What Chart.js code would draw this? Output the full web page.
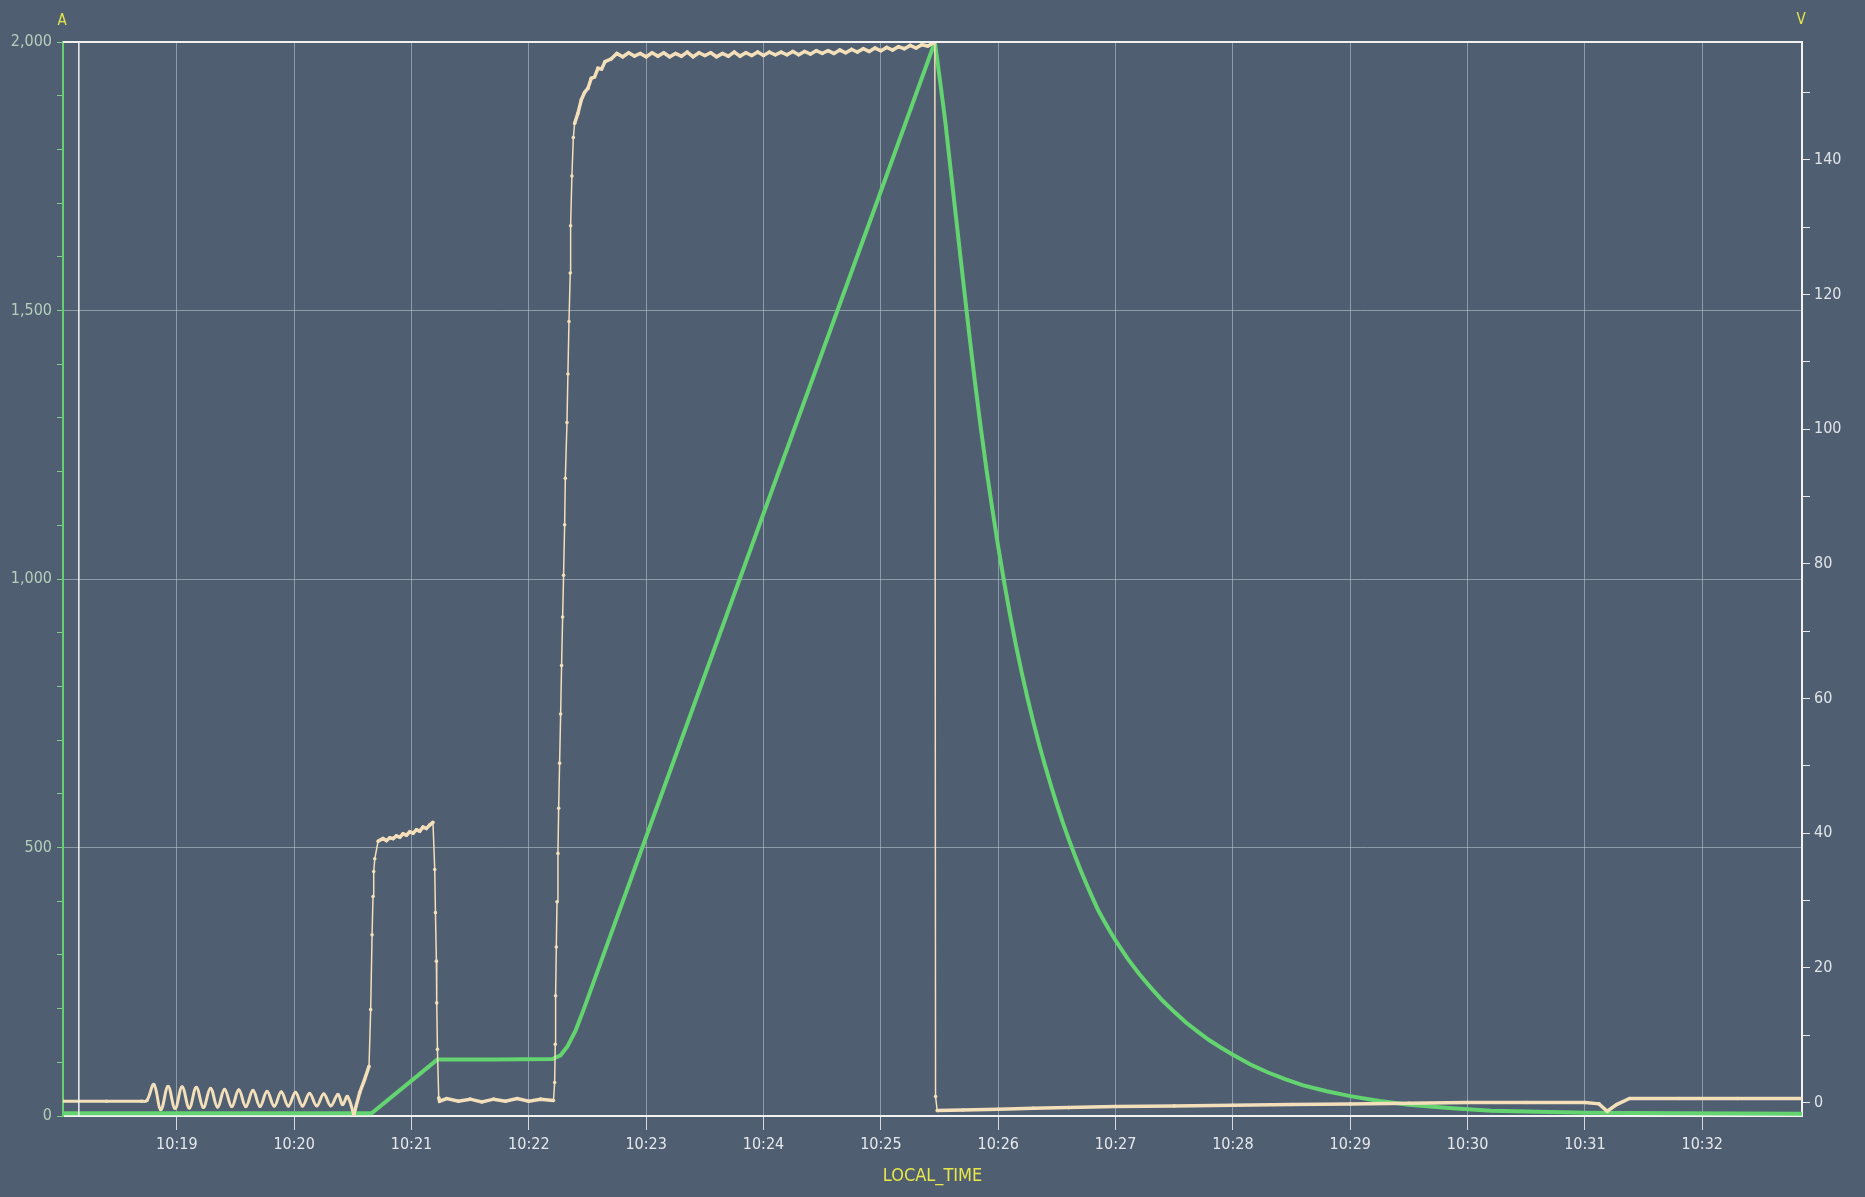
<!DOCTYPE html>
<html>
<head>
<meta charset="utf-8">
<title>LOCAL_TIME</title>
<script src="https://cdn.jsdelivr.net/npm/chart.js@4.4.1/dist/chart.umd.min.js"></script>
<style>
  html, body { margin:0; padding:0; background:#4f5e71; }
  #wrap { width:1865px; height:1197px; position:relative; }
</style>
</head>
<body>
<div id="wrap"><canvas id="chart"></canvas></div>
<script>
/* ========= DATA (time = minutes after 10:00) ========= */
const timeTicks = [19, 20, 21, 22, 23, 24, 25, 26, 27, 28, 29, 30, 31, 32];
const ampTicks  = [0, 100, 200, 300, 400, 500, 600, 700, 800, 900, 1000,
                   1100, 1200, 1300, 1400, 1500, 1600, 1700, 1800, 1900, 2000];
const voltTicks = [0, 10, 20, 30, 40, 50, 60, 70, 80, 90, 100, 110, 120, 130, 140, 150];
const cursorTime = 18.165;

// current, left axis (A)
const ampTime = [18.03, 19.0, 20.0, 20.66, 21.22, 21.70, 22.20, 22.27, 22.33, 22.40, 22.47,
  23.00, 24.00, 25.00, 25.46, 25.50, 25.55, 25.60, 25.65, 25.70, 25.75, 25.80, 25.85,
  25.90, 25.95, 26.00, 26.05, 26.10, 26.15, 26.20, 26.25, 26.30, 26.35, 26.40, 26.45,
  26.50, 26.55, 26.60, 26.65, 26.70, 26.75, 26.80, 26.85, 26.90, 26.95, 27.00, 27.10,
  27.20, 27.30, 27.40, 27.50, 27.60, 27.70, 27.80, 27.90, 28.00, 28.15, 28.30, 28.45,
  28.60, 28.80, 29.00, 29.25, 29.50, 29.84, 30.20, 30.60, 31.00, 31.80, 32.85];
const ampValues = [5, 5, 5, 5, 105, 105, 106, 113, 130, 160, 200,
  520, 1122, 1722, 2000, 1935, 1850, 1752, 1655, 1558, 1462, 1370, 1284,
  1204, 1130, 1060, 995, 934, 878, 826, 778, 733, 691, 652, 615,
  580, 547, 516, 487, 459, 433, 408, 384, 364, 345, 327, 294,
  265, 239, 215, 194, 174, 157, 141, 127, 114, 96, 81, 68,
  57, 46, 37, 28, 21, 15, 10, 8, 6, 5, 4];

// voltage, right axis (V): flat start and ringing before the first step
const oscTime = [18.03, 18.40, 18.70, 18.745,
  18.804, 18.864, 18.925, 18.985, 19.045, 19.106, 19.166, 19.226, 19.287, 19.347,
  19.407, 19.468, 19.528, 19.588, 19.649, 19.709, 19.769, 19.830, 19.890, 19.950,
  20.011, 20.071, 20.131, 20.192, 20.252, 20.312, 20.373, 20.413, 20.454, 20.508];
const oscValues = [0.2, 0.2, 0.2, 0.3,
  2.67, -1.04, 2.38, -0.85, 2.30, -0.80, 2.23, -0.70, 2.08, -0.65,
  1.93, -0.60, 1.86, -0.58, 1.78, -0.55, 1.63, -0.52, 1.56, -0.50,
  1.48, -0.50, 1.34, -0.48, 1.26, -0.48, 1.19, -0.30, 0.89, -1.80];

// voltage, right axis (V): rest of the trace
const voltTime = [
  20.508, 20.559, 20.600, 20.638, 20.652, 20.664, 20.672, 20.678, 20.687, 20.715,
  20.757, 20.786, 20.814, 20.843, 20.871, 20.900, 20.928, 20.957, 20.985, 21.013,
  21.042, 21.070, 21.098, 21.127, 21.155, 21.183,
  21.198, 21.204, 21.212, 21.215, 21.221, 21.232, 21.240,
  21.30, 21.40, 21.50, 21.60, 21.70, 21.80, 21.90, 22.00, 22.10, 22.21,
  22.220, 22.225, 22.228, 22.234, 22.240, 22.248, 22.254, 22.262, 22.271, 22.279,
  22.288, 22.296, 22.305, 22.311, 22.325, 22.333, 22.342, 22.353, 22.356, 22.367,
  22.379, 22.390, 22.418, 22.447, 22.475, 22.503, 22.532, 22.560, 22.589, 22.620,
  22.650, 22.703,
  22.75, 22.80, 22.85, 22.90, 22.95, 23.00, 23.05, 23.10, 23.15, 23.20,
  23.25, 23.30, 23.35, 23.40, 23.45, 23.50, 23.55, 23.60, 23.65, 23.70,
  23.75, 23.80, 23.85, 23.90, 23.95, 24.00, 24.05, 24.10, 24.15, 24.20,
  24.25, 24.30, 24.35, 24.40, 24.45, 24.50, 24.55, 24.60, 24.65, 24.70,
  24.75, 24.80, 24.85, 24.90, 24.95, 25.00, 25.05, 25.10, 25.15, 25.20,
  25.25, 25.30, 25.35, 25.40, 25.46,
  25.466, 25.48, 25.70, 26.00, 26.30, 26.60, 27.00, 27.50, 28.00, 28.50,
  29.00, 29.50, 30.00, 30.50, 31.00, 31.12, 31.19, 31.27, 31.38, 31.80,
  32.30, 32.85];
const voltValues = [
  -1.80, 1.50, 3.40, 5.39, 13.8, 24.9, 30.6, 34.3, 36.2, 38.8,
  39.2, 38.9, 39.3, 39.2, 39.6, 39.4, 39.9, 39.7, 40.2, 40.0,
  40.5, 40.3, 40.9, 40.7, 41.2, 41.6,
  34.6, 28.2, 21.0, 14.8, 7.9, 0.7, 0.2,
  0.6, 0.2, 0.5, 0.1, 0.5, 0.2, 0.6, 0.2, 0.5, 0.3,
  2.97, 8.64, 15.85, 23.1, 29.8, 37.0, 43.7, 50.4, 57.7, 64.9,
  72.1, 78.3, 85.8, 92.7, 101.0, 108.2, 116.0, 123.2, 130.2, 137.6,
  143.3, 145.4, 146.9, 148.9, 150.0, 150.6, 152.1, 152.3, 153.6, 153.5,
  154.6, 155.0,
  155.8, 155.3, 155.9, 155.4, 155.8, 155.3, 155.9, 155.4, 155.9, 155.3,
  155.8, 155.4, 156.0, 155.3, 155.9, 155.5, 155.9, 155.3, 155.8, 155.4,
  156.0, 155.4, 155.9, 155.5, 156.0, 155.5, 156.0, 155.6, 156.0, 155.6,
  156.1, 155.6, 156.1, 155.7, 156.2, 155.8, 156.2, 155.8, 156.3, 155.9,
  156.4, 156.0, 156.5, 156.1, 156.6, 156.2, 156.7, 156.3, 156.8, 156.5,
  157.0, 156.6, 157.1, 156.9, 157.5,
  0.9, -1.2, -1.1, -1.0, -0.85, -0.75, -0.6, -0.5, -0.4, -0.3,
  -0.2, -0.1, 0.0, 0.0, 0.0, -0.2, -1.3, -0.3, 0.6, 0.6,
  0.6, 0.6];

/* ========= STYLE ========= */
const FONT = "'Liberation Sans Narrow', 'Arial Narrow', 'DejaVu Sans Condensed', sans-serif";
const gridColor = 'rgba(196,204,214,0.55)';
const green = '#63d46f';
const cream = '#f3dfba';

const framePlugin = {
  id:'frame',
  afterDraw(chart){
    const { ctx, chartArea:a, scales } = chart;
    ctx.save();
    // cursor line
    const cx = scales.x.getPixelForValue(cursorTime);
    ctx.strokeStyle = '#f2f2f2';
    ctx.lineWidth = 1.5;
    ctx.beginPath(); ctx.moveTo(cx, a.top); ctx.lineTo(cx, a.bottom); ctx.stroke();
    // top border
    ctx.lineWidth = 2;
    ctx.beginPath(); ctx.moveTo(a.left, a.top); ctx.lineTo(a.right + 1, a.top); ctx.stroke();
    // unit labels
    ctx.fillStyle = '#e4e44c';
    ctx.font = '15px ' + FONT;
    ctx.textAlign = 'center';
    ctx.textBaseline = 'middle';
    ctx.fillText('A', a.left - 1, 21);
    ctx.fillText('V', a.right - 1, 20);
    ctx.restore();
  }
};

function voltSet(times, values, extra){
  return {
    label:'V',
    yAxisID:'y1',
    data: times.map((t, i) => ({ x:t, y:values[i] })),
    borderColor: cream,
    backgroundColor: cream,
    borderWidth: 3.5,
    pointRadius: 1.8,
    pointBorderWidth: 0,
    pointBackgroundColor: cream,
    tension: 0,
    ...extra
  };
}

/* ========= CHART ========= */
new Chart(document.getElementById('chart'), {
  type:'line',
  data:{
    datasets:[
      voltSet(voltTime, voltValues, {
        segment:{
          // steep parts of the trace are a thin line, flat parts a thick dotted band
          borderWidth: c => Math.abs(c.p1.y - c.p0.y) > 2.5 * Math.abs(c.p1.x - c.p0.x) + 8 ? 1.5 : 3.5
        }
      }),
      voltSet(oscTime, oscValues, { borderWidth:3, tension:0.4 }),
      {
        label:'A',
        yAxisID:'y',
        data: ampTime.map((t, i) => ({ x:t, y:ampValues[i] })),
        borderColor: green,
        backgroundColor: green,
        borderWidth: 4,
        pointRadius: 0,
        tension: 0
      }
    ]
  },
  options:{
    responsive:true,
    maintainAspectRatio:false,
    animation:false,
    events:[],
    layout:{ padding:{ top:42, left:0, right:0, bottom:0 } },
    plugins:{ legend:{ display:false }, tooltip:{ enabled:false } },
    scales:{
      x:{
        type:'linear',
        min:18.03,
        max:32.85,
        afterBuildTicks: ax => { ax.ticks = timeTicks.map(v => ({ value:v })); },
        afterFit: ax => { ax.height = 81; },
        ticks:{
          color:'#e6e8ec',
          font:{ family:FONT, size:16 },
          padding:5,
          maxRotation:0,
          autoSkip:false,
          callback: v => '10:' + String(v).padStart(2, '0')
        },
        grid:{ color:gridColor, lineWidth:1, tickLength:14, tickColor:'#d6dae0' },
        border:{ color:'#f2f2f2', width:2 },
        title:{
          display:true,
          text:'LOCAL_TIME',
          color:'#e8e84a',
          font:{ family:FONT, size:18 },
          padding:{ top:0, bottom:10 }
        }
      },
      y:{
        type:'linear',
        position:'left',
        min:0,
        max:2000,
        afterBuildTicks: ax => { ax.ticks = ampTicks.map(v => ({ value:v })); },
        afterFit: ax => { ax.width = 63; },
        ticks:{
          color:'#b5cfbb',
          font:{ family:FONT, size:16 },
          padding:5,
          autoSkip:false,
          callback: v => v % 500 === 0 ? v.toLocaleString('en-US') : ''
        },
        grid:{
          color: c => (c.tick && c.tick.value % 500 === 0) ? gridColor : 'rgba(0,0,0,0)',
          tickLength:6,
          tickColor:'#7fd08a'
        },
        border:{ color:'#66d070', width:2 }
      },
      y1:{
        type:'linear',
        position:'right',
        min:-2,
        max:157.5,
        afterBuildTicks: ax => { ax.ticks = voltTicks.map(v => ({ value:v })); },
        afterFit: ax => { ax.width = 63; },
        ticks:{
          color:'#e0e4e9',
          font:{ family:FONT, size:16 },
          padding:4,
          autoSkip:false,
          callback: v => v % 20 === 0 ? String(v) : ''
        },
        grid:{ drawOnChartArea:false, tickLength:8, tickColor:'#e8e8e8' },
        border:{ color:'#f2f2f2', width:2 }
      }
    }
  },
  plugins:[framePlugin]
});
</script>
</body>
</html>
